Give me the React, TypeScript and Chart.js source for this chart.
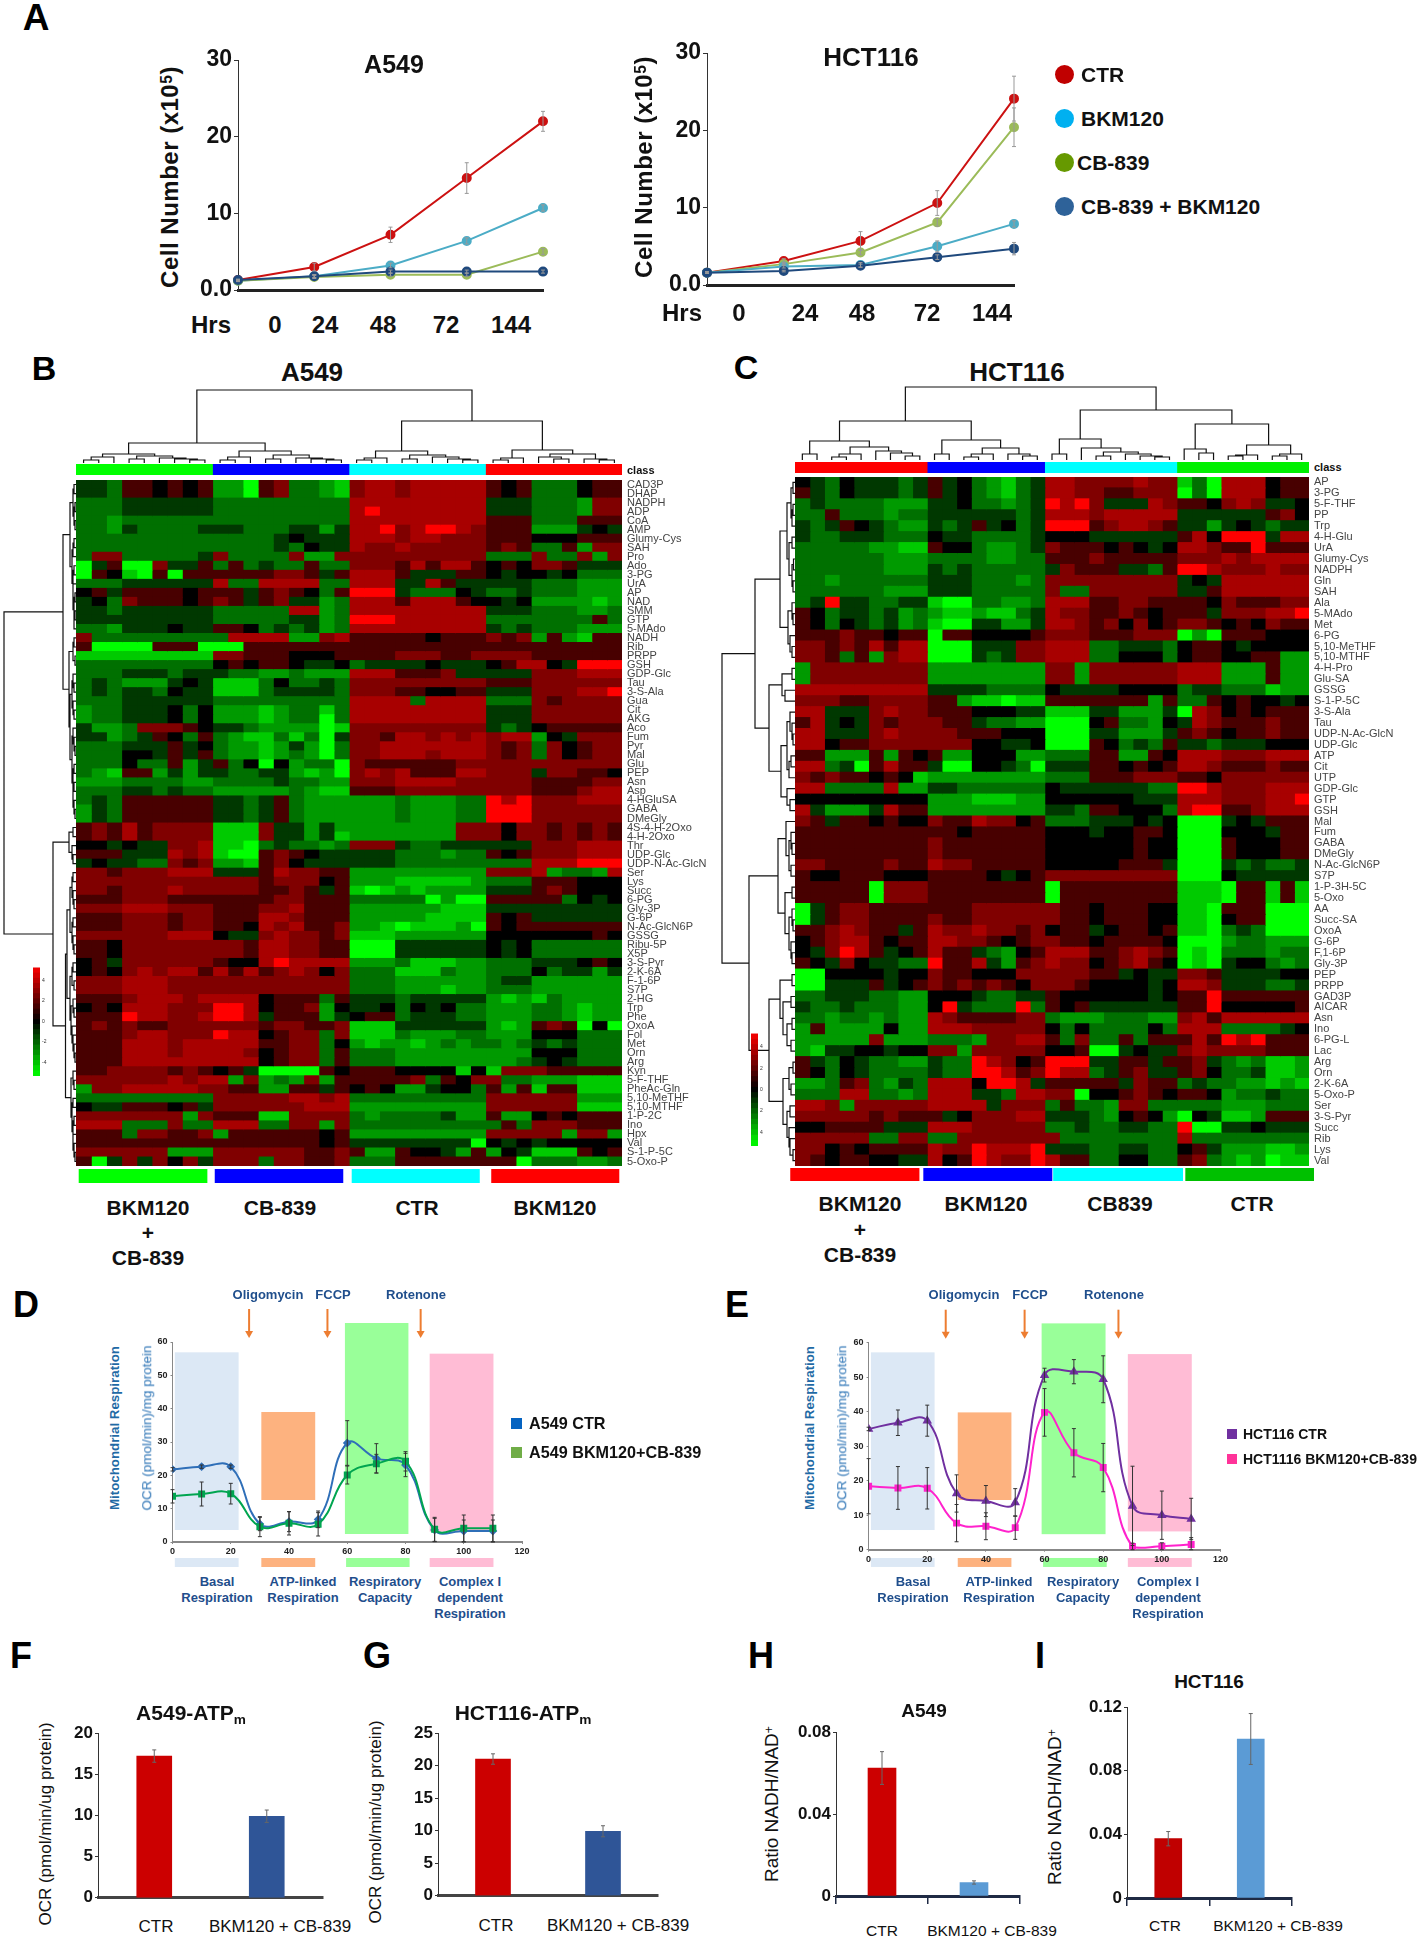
import React, { useEffect, useRef } from "react";
import { Chart, registerables } from "chart.js";
Chart.register(...registerables);

const FONT = '"Liberation Sans", Arial, sans-serif';

// ---------- Panel A ----------
const hours = ["0", "24", "48", "72", "144"];
const a549Ctr = [1.3, 3.0, 7.2, 14.6, 22];
const a549Bkm = [1.2, 1.8, 3.2, 6.4, 10.7];
const a549Cb = [1.2, 1.7, 2.0, 2.0, 5.0];
const a549Combo = [1.3, 1.8, 2.4, 2.4, 2.4];
const a549CtrErr = [0.1, 0.5, 1.0, 2.0, 1.3];
const a549BkmErr = [0.1, 0.2, 0.3, 0.4, 0.4];
const a549CbErr = [0.1, 0.2, 0.2, 0.2, 0.4];
const a549ComboErr = [0.1, 0.2, 0.2, 0.2, 0.2];
const hctCtr = [1.6, 3.1, 5.7, 10.6, 24.1];
const hctBkm = [1.6, 2.4, 2.6, 5.0, 7.9];
const hctCb = [1.6, 2.7, 4.2, 8.1, 20.4];
const hctCombo = [1.6, 1.8, 2.5, 3.6, 4.7];
const hctCtrErr = [0.1, 0.3, 1.2, 1.6, 2.9];
const hctBkmErr = [0.1, 0.2, 0.3, 0.7, 0.4];
const hctCbErr = [0.1, 0.2, 0.3, 0.5, 2.5];
const hctComboErr = [0.1, 0.1, 0.2, 0.3, 0.8];

// ---------- Heatmaps: one digit per cell, 0 = brightest green, 5 = black, 9 = brightest red ----------
const cellScale = [-5.3, -4.2, -3.2, -2.33, -1.17, 0, 1.5, 2.66, 3.5, 5.3];

const labelsB = ["CAD3P","DHAP","NADPH","ADP","CoA","AMP","Glumy-Cys","SAH","Pro","Ado","3-PG","UrA","AP","NAD","SMM","GTP","5-MAdo","NADH","Rib","PRPP","GSH","GDP-Glc","Tau","3-S-Ala","Gua","Cit","AKG","Aco","Fum","Pyr","Mal","Glu","PEP","Asn","Asp","4-HGluSA","GABA","DMeGly","4S-4-H-2Oxo","4-H-2Oxo","Thr","UDP-Glc","UDP-N-Ac-GlcN","Ser","Lys","Succ","6-PG","Gly-3P","G-6P","N-Ac-GlcN6P","GSSG","Ribu-5P","X5P","3-S-Pyr","2-K-6A","F-1-6P","S7P","2-HG","Trp","Phe","OxoA","Fol","Met","Orn","Arg","Kyn","5-F-THF","PheAc-Gln","5,10-MeTHF","5,10-MTHF","1-P-2C","Ino","Hpx","Val","S-1-P-5C","5-Oxo-P"];

const heatB = [
"443 665 656 220 673 321 788 788 888 656 333 566",
"443 665 656 220 673 321 788 788 888 656 333 566",
"333 444 444 333 333 333 888 888 888 444 333 277",
"333 444 444 333 333 333 898 888 888 444 333 277",
"332 333 333 333 333 333 888 888 888 666 333 666",
"332 433 334 443 334 424 889 789 987 666 222 454",
"333 333 333 333 345 444 888 788 777 666 555 666",
"333 333 333 333 343 544 877 877 777 676 336 277",
"377 333 334 733 337 227 777 777 777 333 733 727",
"046 007 446 363 433 633 777 686 886 565 776 444",
"065 106 066 666 677 646 888 644 466 545 545 333",
"333 444 444 833 888 833 888 448 644 444 333 222",
"564 666 656 664 676 536 999 433 354 334 333 222",
"453 766 656 764 674 423 888 688 865 545 222 212",
"443 444 444 333 338 823 888 888 888 444 333 223",
"444 444 444 333 334 423 999 888 888 333 333 363",
"332 444 544 665 343 423 888 888 888 434 333 222",
"733 333 333 388 882 278 666 665 666 767 262 166",
"600 006 660 006 666 666 666 666 666 666 666 666",
"111 111 111 776 665 556 666 777 667 777 666 666",
"333 333 333 565 665 445 344 445 444 568 854 999",
"333 444 344 433 223 222 888 666 744 444 777 888",
"343 222 454 111 353 343 777 777 777 666 777 777",
"343 443 544 111 344 443 777 665 566 444 777 889",
"333 444 444 333 333 333 888 838 888 333 767 777",
"233 444 535 222 123 313 888 888 888 444 777 777",
"233 444 535 222 123 303 888 888 888 444 777 777",
"422 377 765 443 222 201 777 777 777 434 566 666",
"442 346 536 321 131 304 776 887 878 788 254 777",
"333 444 645 322 124 203 778 888 888 767 375 677",
"333 554 646 322 123 203 778 887 888 767 375 677",
"333 533 624 635 052 330 766 666 677 777 777 777",
"321 662 424 433 442 120 787 866 688 777 477 665",
"222 333 322 333 343 322 777 888 877 777 666 677",
"333 443 433 222 223 211 666 777 777 777 666 788",
"343 666 666 443 463 222 222 322 233 989 777 888",
"243 666 666 443 463 222 222 322 233 999 777 777",
"243 666 666 443 463 222 222 322 233 999 777 777",
"676 867 777 111 744 242 222 222 277 757 767 676",
"676 867 777 111 744 241 222 222 277 757 767 676",
"554 544 778 110 343 323 777 433 444 444 777 888",
"666 444 878 100 676 544 444 333 233 656 777 888",
"454 433 767 221 675 444 444 333 333 333 888 999",
"776 777 888 444 687 766 222 222 222 777 823 328",
"777 777 777 777 677 756 222 111 112 333 666 555",
"776 777 877 777 667 646 101 212 222 444 676 555",
"666 777 666 666 677 666 333 330 200 666 663 545",
"777 888 777 666 778 666 222 222 111 444 444 444",
"666 777 677 666 887 666 222 221 111 656 444 444",
"666 777 677 665 878 667 221 011 120 656 666 666",
"777 777 888 544 787 767 111 222 222 555 555 565",
"665 777 777 776 887 766 000 444 444 545 333 333",
"665 777 777 776 887 766 000 444 444 545 333 333",
"564 777 777 655 898 888 222 311 122 333 444 565",
"565 787 886 868 678 757 333 111 322 333 534 424",
"777 888 777 777 777 777 333 222 222 344 222 222",
"777 888 777 777 777 777 333 222 122 333 222 222",
"666 788 878 888 566 636 444 344 444 212 132 222",
"565 888 777 998 566 725 445 354 533 222 332 122",
"666 988 778 998 466 624 566 344 433 222 332 122",
"676 766 777 777 677 667 111 444 444 212 676 050",
"666 788 777 988 567 737 111 322 233 222 555 333",
"666 888 788 888 667 735 212 212 323 323 434 333",
"666 888 788 887 567 736 333 222 222 222 555 333",
"666 888 888 888 567 736 333 222 222 223 454 333",
"667 777 676 564 000 065 666 555 515 177 766 666",
"777 777 878 827 232 726 666 673 657 733 222 111",
"277 888 887 766 226 646 565 224 553 626 166 111",
"333 333 333 777 778 878 333 333 333 777 777 222",
"544 666 564 777 777 888 222 222 222 777 777 111",
"777 777 727 666 117 777 323 333 422 622 565 666",
"888 333 733 888 337 727 333 333 333 363 777 666",
"666 377 667 266 666 656 222 222 222 777 772 772",
"666 666 666 666 666 656 444 444 440 545 455 555",
"777 777 222 777 777 667 622 655 426 254 111 656",
"604 747 574 777 377 667 333 666 666 660 333 223",
];

const labelsC = ["AP","3-PG","5-F-THF","PP","Trp","4-H-Glu","UrA","Glumy-Cys","NADPH","Gln","SAH","Ala","5-MAdo","Met","6-PG","5,10-MeTHF","5,10-MTHF","4-H-Pro","Glu-SA","GSSG","S-1-P-5C","3-S-Ala","Tau","UDP-N-Ac-GlcN","UDP-Glc","ATP","Cit","UTP","GDP-Glc","GTP","GSH","Mal","Fum","GABA","DMeGly","N-Ac-GlcN6P","S7P","1-P-3H-5C","5-Oxo","AA","Succ-SA","OxoA","G-6P","F,1-6P","Gly-3P","PEP","PRPP","GAD3P","AICAR","Asn","Ino","6-PG-L","Lac","Arg","Orn","2-K-6A","5-Oxo-P","Ser","3-S-Pyr","Succ","Rib","Lys","Val"];

const heatC = [
"543 544 434 645 321 34 887 777 877 130 888 566",
"643 544 434 645 321 34 887 766 777 030 888 566",
"343 333 222 445 332 34 989 744 487 665 787 445",
"336 333 233 444 444 34 888 788 888 444 444 675",
"434 654 322 434 645 34 999 678 876 442 454 344",
"433 444 333 544 333 34 555 444 444 685 999 488",
"333 332 211 655 322 34 766 656 545 887 669 666",
"333 333 222 333 322 33 666 766 666 777 878 888",
"333 333 222 434 333 33 476 664 436 998 777 877",
"332 333 333 444 333 23 777 777 777 454 888 888",
"333 333 222 444 333 33 733 777 777 446 888 888",
"349 443 344 100 332 23 888 667 766 665 766 677",
"653 443 423 211 211 34 877 667 656 664 777 889",
"653 543 423 100 442 24 887 675 756 776 565 766",
"666 766 566 066 555 56 777 666 777 020 666 555",
"776 768 688 000 444 77 888 334 443 566 545 555",
"776 362 788 000 434 77 888 335 553 566 556 622",
"277 777 777 222 222 22 772 777 777 888 222 622",
"277 777 777 222 222 22 772 777 777 888 222 622",
"888 888 888 444 433 33 544 445 555 344 333 122",
"777 667 777 662 110 11 666 666 626 336 565 545",
"884 447 877 666 555 44 111 442 224 087 565 666",
"684 547 677 766 433 22 000 563 325 487 666 766",
"884 447 877 776 665 55 000 442 224 676 566 766",
"885 667 777 777 554 45 000 653 436 443 444 555",
"662 226 265 622 555 22 333 662 265 888 777 888",
"883 406 866 400 554 30 444 665 656 887 666 766",
"767 665 651 222 222 22 333 666 777 665 777 777",
"883 333 822 443 333 33 544 444 433 998 777 888",
"555 555 555 222 111 22 555 555 444 888 777 889",
"842 224 866 222 222 22 443 665 553 899 667 888",
"764 665 655 766 877 56 333 444 545 000 454 666",
"666 666 666 665 666 66 555 455 665 000 555 466",
"666 666 666 766 666 66 555 555 655 000 655 566",
"666 666 666 766 666 66 555 555 655 000 655 566",
"776 666 766 877 666 66 555 556 664 000 434 334",
"655 666 555 666 654 56 777 777 777 000 544 444",
"666 660 777 666 666 66 066 666 666 111 066 161",
"666 660 777 666 666 66 066 666 666 111 066 161",
"046 776 666 666 777 77 766 566 655 110 666 000",
"046 776 666 766 777 77 766 566 655 110 566 000",
"667 876 646 877 877 67 566 456 656 110 343 000",
"567 886 566 887 765 67 766 566 665 000 233 222",
"547 986 456 866 432 56 888 667 876 010 333 233",
"654 754 433 966 842 67 877 567 865 010 455 323",
"005 555 455 766 555 77 777 664 544 776 444 455",
"004 446 456 767 676 57 776 555 545 887 444 334",
"334 443 322 555 433 44 655 555 545 669 666 666",
"433 433 322 594 333 93 656 444 444 669 555 556",
"332 332 322 876 666 77 322 233 322 786 888 888",
"262 222 522 888 777 77 535 333 353 888 333 345",
"222 227 222 333 277 88 637 336 366 686 989 666",
"214 455 455 772 777 77 556 004 544 787 777 666",
"643 543 322 433 987 56 999 446 646 674 323 112",
"653 543 333 433 998 67 988 346 744 675 334 112",
"223 673 243 888 599 84 666 664 766 343 322 121",
"333 883 323 888 443 88 770 556 765 665 233 433",
"887 277 777 888 847 77 363 327 733 333 222 333",
"777 776 766 645 777 88 444 325 652 054 112 666",
"556 666 444 888 777 77 334 334 433 900 445 444",
"777 773 377 337 777 77 733 333 333 833 333 333",
"775 656 666 877 988 89 444 334 433 564 222 112",
"765 665 544 856 987 79 866 335 533 673 212 011",
];

// Dendrograms: [height, childA, childB]; a bare number is a leaf index.
type Tree = number | [number, Tree, Tree];
const colTreeB: Tree = [73,
  [20,
    [9,[6,[3,0,1],2],[7,[4,3,4],[5,5,[4,6,[3,7,8]]]]],
    [12,[6,[3,9,10],11],[8,[4,12,13],[5,14,[4,15,[3,16,17]]]]]],
  [42,
    [12,[5,[3,18,19],20],[8,[4,21,22],[6,23,[4,24,[3,25,26]]]]],
    [13,[5,[3,27,28],29],[9,[6,30,[4,31,32]],[4,33,[3,34,35]]]]]];
const rowTreeB: Tree = [72,
  [13,
    [6,[3,[2,0,1],[2,[1,2,3],[1,4,5]]],[4,[3,[2,6,7],8],[3,[2,9,10],[3,11,[2,[1,12,13],[2,[1,14,15],16]]]]]],
    [7,[3,[2,17,18],[1,19,20]],[6,[4,[3,21,[2,22,23]],[3,24,[2,25,26]]],[4,[3,27,[2,28,[1,29,30]]],[3,[2,31,32],[3,[2,33,34],[2,35,[1,36,37]]]]]]]],
  [23,
    [7,[3,38,39],[4,40,[3,41,42]]],
    [10.5,
      [9,[6,[4,[3,43,44],[3,45,[2,46,47]]],[4,[3,48,49],[3,50,[2,51,52]]]],[6,[4,[3,53,54],[2,55,56]],[5,[3,57,[2,58,59]],[4,60,[3,61,[2,62,[1,63,64]]]]]]],
      [5,[3,65,[2,66,67]],[4,[3,68,69],[3,[2,70,71],[3,72,[2,73,[1,74,75]]]]]]]]];
const colTreeC: Tree = [73,
  [39,
    [19,[6,0,1],[13,[6,[3,2,3],4],[9,5,[7,6,[4,7,8]]]]],
    [20,[6,9,10],[12,[6,[3,11,12],13],[6,14,[4,15,16]]]]],
  [50,
    [21,[6,17,18],[12,19,[8,[4,20,21],[6,22,[4,23,[3,24,25]]]]]],
    [36,[11,26,[7,27,28]],[15,[5,[4,29,30],31],[6,[4,32,33],34]]]]];
const rowTreeC: Tree = [73,
  [40,
    [15,[8,[4,[2,0,1],[3,[2,2,3],4]],[6,[3,5,6],[3,[1.5,7,8],[2,9,10]]]],[7,[3,11,[2,12,13]],[5,14,[3,15,16]]]],
    [26,[13,[3,17,18],[10,19,20]],[14,[8,[5,21,[3,22,[2,23,24]]],[6,[4,25,26],27]],[8,28,[5,29,30]]]]],
  [46,
    [17,[9,31,[6,[4,32,[3,33,34]],[4,35,36]]],[10,[3,37,38],[6,[3,39,[2,40,41]],[4,42,[3,43,44]]]]],
    [26,[15,[3,45,46],[12,[4,47,48],[8,[3,49,50],[4,51,52]]]],[12,[6,[2,53,54],[4,55,56]],[8,[5,57,58],[6,59,[5,60,[2,61,62]]]]]]]];

const classRangesB = [[0, 9], [9, 18], [18, 27], [27, 36]];
const classColorsB = ["#00ff00", "#0000ff", "#00ffff", "#ff0000"];
const footRangesB = [[0.2, 8.64], [9.17, 17.6], [18.2, 26.6], [27.4, 35.8]];
const classRangesC = [[0, 9], [9, 17], [17, 26], [26, 35]];
const classColorsC = ["#ff0000", "#0000ff", "#00ffff", "#00f000"];
const footRangesC = [[-0.3, 8.45], [8.76, 17.5], [17.6, 26.4], [26.6, 35.34]];
const footColorsC = ["#ff0000", "#0000ff", "#00ffff", "#00c000"];
const colorBarLevels = [-5.3,-4.8,-4.3,-3.8,-3.3,-2.8,-2.3,-1.8,-1.3,-0.8,-0.3,0.2,0.7,1.2,1.7,2.2,2.7,3.2,3.7,4.2,4.7];

// ---------- Panels D / E ----------
const minutes = [0, 10, 20, 30, 40, 50, 60, 70, 80, 90, 100, 110];
const dCtr = [21.8, 22.6, 22.6, 5.4, 6.1, 6.8, 29.7, 25.1, 23.1, 3.6, 3.3, 3.3];
const dCtrErr = [0.5, 0.5, 0.5, 2, 3, 2.5, 6.7, 4.4, 3.5, 3.5, 3.3, 3.3];
const dCombo = [13.7, 14.4, 14.5, 4.6, 5.6, 5.3, 20.1, 23.5, 24.2, 3.8, 4.1, 4.1];
const dComboErr = [2, 3.6, 3.1, 3, 3.5, 3.5, 2.7, 2.8, 2.9, 3.6, 4, 4];
const eCtr = [35, 36.8, 37.4, 16.3, 14.1, 13.7, 50.6, 51.6, 49.4, 12.7, 10, 8.9];
const eCtrErr = [0.5, 3.7, 4.5, 5.4, 4.5, 4, 2, 3.5, 6.8, 11.5, 7, 6];
const eCombo = [18.4, 17.9, 17.8, 7.7, 6.8, 6.4, 39.8, 28.1, 23.8, 0.9, 1, 1.5];
const eComboErr = [8, 6.2, 6, 5.4, 3.9, 3.4, 6.9, 7, 7, 1, 1, 2];
const bandColors = ["#dce8f5", "#fdb27f", "#99ff99", "#ffbcd5"];
const dBands = [[0.8, 22.7, 56.9, 3.6], [30.5, 49, 39, 12.6], [59.2, 81, 65.7, 2.4], [88.3, 110.2, 56.5, 3.1]];
const dStrips = [[0.8, 22.7], [30.5, 49], [59.6, 81.4], [88.3, 110.2]];
const eBands = [[0.8, 22.5, 57.2, 5.7], [30.4, 48.7, 39.8, 14.4], [59, 80.8, 65.6, 4.5], [88.4, 110.2, 56.7, 5.3]];
const eStrips = [[0.8, 22.5], [30.4, 48.7], [59.5, 81.2], [88.4, 110.2]];
const drugTimes = [26.3, 53.2, 85.2];

// ---------- Panels F - I ----------
const barLabels = ["CTR", "BKM120 + CB-839"];
const fVals = [17.2, 9.9];
const fErr = [0.75, 0.75];
const gVals = [21, 9.9];
const gErr = [0.8, 0.85];
const hVals = [0.0625, 0.0066];
const hErr = [0.008, 0.0008];
const iVals = [0.0373, 0.1];
const iErr = [0.0045, 0.016];

// ---------- helpers ----------
const errorBars = {
  id: "errorBars",
  afterDatasetsDraw(chart: any) {
    const ctx = chart.ctx;
    const y = chart.scales.y;
    chart.data.datasets.forEach((ds: any, i: number) => {
      if (!ds.errs) return;
      const meta = chart.getDatasetMeta(i);
      ds.errs.forEach((e: number, j: number) => {
        const raw = ds.data[j];
        const v = typeof raw === "number" ? raw : raw.y;
        const x = meta.data[j].x;
        const t = y.getPixelForValue(v + e);
        const b = y.getPixelForValue(Math.max(0, v - e));
        ctx.save();
        ctx.strokeStyle = ds.errColor || "#777";
        ctx.lineWidth = 1;
        ctx.beginPath();
        ctx.moveTo(x, t); ctx.lineTo(x, b);
        ctx.moveTo(x - 2, t); ctx.lineTo(x + 2, t);
        ctx.moveTo(x - 2, b); ctx.lineTo(x + 2, b);
        ctx.stroke();
        ctx.restore();
      });
    });
  },
};

function bandsPlugin(bands: number[][], strips: number[][], stripY: number[], times: number[]) {
  return {
    id: "bands",
    beforeDraw(chart: any) {
      const { ctx, scales } = chart;
      const X = (v: number) => scales.x.getPixelForValue(v);
      const Y = (v: number) => scales.y.getPixelForValue(v);
      ctx.save();
      bands.forEach((b, i) => {
        ctx.fillStyle = bandColors[i];
        ctx.fillRect(X(b[0]), Y(b[2]), X(b[1]) - X(b[0]), Y(b[3]) - Y(b[2]));
      });
      strips.forEach((s, i) => {
        ctx.fillStyle = bandColors[i];
        ctx.fillRect(X(s[0]), Y(stripY[0]), X(s[1]) - X(s[0]), Y(stripY[1]) - Y(stripY[0]));
      });
      ctx.restore();
    },
    afterDraw(chart: any) {
      const { ctx, scales } = chart;
      ctx.save();
      ctx.strokeStyle = "#ed7d31";
      ctx.fillStyle = "#ed7d31";
      ctx.lineWidth = 2;
      times.forEach((t) => {
        const x = scales.x.getPixelForValue(t);
        const top = scales.y.top - 33;
        const tip = scales.y.top - 4;
        ctx.beginPath(); ctx.moveTo(x, top); ctx.lineTo(x, tip - 6); ctx.stroke();
        ctx.beginPath(); ctx.moveTo(x - 4, tip - 7); ctx.lineTo(x + 4, tip - 7); ctx.lineTo(x, tip); ctx.closePath(); ctx.fill();
      });
      ctx.restore();
    },
  };
}

function frame(box: number[], plot: number[]) {
  const [L, T, W, H] = box;
  const [x0, y0, x1, y1] = plot;
  return {
    layout: { padding: { top: y0 - T, right: L + W - x1, left: 0, bottom: 0 } },
    fitX: (s: any) => { s.height = T + H - y1; },
    fitY: (s: any) => { s.width = x0 - L; },
  };
}

const base = { animation: false, responsive: false, devicePixelRatio: 1, plugins: { legend: { display: false }, tooltip: { enabled: false }, title: { display: false } } };

function Plot({ box, make }: { box: number[]; make: () => any }) {
  const ref = useRef<HTMLCanvasElement>(null);
  useEffect(() => {
    const c = new Chart(ref.current as any, make());
    return () => c.destroy();
  }, []);
  return <canvas ref={ref} width={box[2]} height={box[3]} style={{ position: "absolute", left: box[0], top: box[1], width: box[2], height: box[3] }} />;
}

function T({ x, y, size, bold, color, rot, anchor, spacing, children }: any) {
  const tx = anchor === "left" ? "0" : "-50%";
  return (
    <div style={{ position: "absolute", left: x, top: y, transform: `translate(${tx},-50%)` + (rot ? ` rotate(${rot}deg)` : ""), fontFamily: FONT, fontSize: size, fontWeight: bold ? 700 : 400, color: color || "#111", whiteSpace: "nowrap", lineHeight: 1, letterSpacing: spacing || 0 }}>
      {children}
    </div>
  );
}
const Sup = ({ children }: any) => <span style={{ fontSize: "0.65em", position: "relative", top: "-0.4em" }}>{children}</span>;
const Sub = ({ children }: any) => <span style={{ fontSize: "0.65em", position: "relative", top: "0.3em" }}>{children}</span>;

function growthChart(box: number[], plot: number[], series: any[]) {
  const f = frame(box, plot);
  return () => ({
    type: "line",
    data: {
      labels: hours,
      datasets: series.map((s) => ({ data: s[0], errs: s[1], borderColor: s[2], backgroundColor: s[2], borderWidth: 2, pointRadius: 4, tension: 0, errColor: "#999" })),
    },
    plugins: [errorBars],
    options: {
      ...base,
      layout: f.layout,
      scales: {
        x: { afterFit: f.fitX, ticks: { display: false }, grid: { display: false }, border: { color: "#222", width: 3 } },
        y: {
          afterFit: f.fitY, min: 0, max: 30,
          ticks: { stepSize: 10, padding: 2, color: "#111", font: { family: FONT, size: 23, weight: "bold" }, callback: (v: number) => (v === 0 ? "0.0" : String(v)) },
          grid: { drawOnChartArea: false, tickLength: 4, color: "#333" }, border: { color: "#333", width: 1 },
        },
      },
    },
  });
}

function heatColor(z: number) {
  const c = Math.min(255, Math.round((Math.abs(z) / 5.3) * 255));
  return z > 0 ? `rgb(${c},0,0)` : `rgb(0,${c},0)`;
}

function heatChart(rows: string[], labels: string[], cols: number, labelW: number) {
  const grid = rows.map((r) => r.replace(/\s/g, "").split("").map((c) => cellScale[+c]));
  return () => ({
    type: "bar",
    data: {
      labels,
      datasets: Array.from({ length: cols }, (_, c) => ({
        data: grid.map(() => [c - 0.04, c + 1.04]),
        backgroundColor: grid.map((r) => heatColor(r[c] ?? 0)),
        borderWidth: 0, grouped: false, barPercentage: 1.1, categoryPercentage: 1,
      })),
    },
    options: {
      ...base,
      indexAxis: "y",
      layout: { padding: { top: 14, bottom: 14, left: 0, right: 0 } },
      scales: {
        x: { display: false, min: 0, max: cols },
        y: {
          position: "right", afterFit: (s: any) => { s.width = labelW; },
          ticks: { autoSkip: false, padding: 5, color: "#444", font: { family: FONT, size: 11 } },
          grid: { display: false, drawTicks: false }, border: { display: false },
        },
      },
    },
  });
}

function treePoints(tree: Tree, flip: boolean) {
  const pts: any[] = [];
  const put = (pos: number, h: number) => pts.push(flip ? { x: h, y: pos } : { x: pos, y: h });
  const walk = (t: Tree): [number, number] => {
    if (typeof t === "number") return [t + 0.5, 0];
    const [a, ah] = walk(t[1]);
    const [b, bh] = walk(t[2]);
    put(a, ah); put(a, t[0]); put(b, t[0]); put(b, bh);
    pts.push({ x: NaN, y: NaN });
    return [(a + b) / 2, t[0]];
  };
  walk(tree);
  return pts;
}

function treeChart(tree: Tree, flip: boolean, leaves: number, maxH: number) {
  return () => ({
    type: "scatter",
    data: { datasets: [{ data: treePoints(tree, flip), showLine: true, pointRadius: 0, borderWidth: 1.2, borderColor: "#111", spanGaps: false, tension: 0 }] },
    options: {
      ...base,
      scales: flip
        ? { x: { display: false, min: 0, max: maxH, reverse: true }, y: { display: false, min: 0, max: leaves, reverse: true } }
        : { x: { display: false, min: 0, max: leaves }, y: { display: false, min: 0, max: maxH } },
    },
  });
}

function classBar(ranges: number[][], colors: string[], min: number, max: number) {
  return () => ({
    type: "bar",
    data: { labels: ["class"], datasets: ranges.map((r, i) => ({ data: [r], backgroundColor: colors[i], borderWidth: 0, grouped: false, barPercentage: 1, categoryPercentage: 1 })) },
    options: { ...base, indexAxis: "y", scales: { x: { display: false, min, max }, y: { display: false } } },
  });
}

function colorBar(box: number[], plot: number[], abs: boolean) {
  return () => ({
    type: "bar",
    data: { labels: ["z"], datasets: colorBarLevels.map((v) => ({ data: [[v, v + 0.52]], backgroundColor: heatColor(v + 0.25), borderWidth: 0, grouped: false, barPercentage: 1, categoryPercentage: 1 })) },
    options: {
      ...base,
      layout: { padding: { top: plot[1] - box[1], bottom: box[1] + box[3] - plot[3], left: 0, right: 0 } },
      scales: {
        x: { display: false },
        y: {
          position: "right", min: -5.3, max: 5.3, afterFit: (s: any) => { s.width = box[2] - (plot[2] - plot[0]); },
          afterBuildTicks: (s: any) => { s.ticks = [-4, -2, 0, 2, 4].map((value) => ({ value })); },
          ticks: { padding: 2, color: "#333", font: { family: FONT, size: 5 }, callback: (v: number) => String(abs ? Math.abs(v) : v) },
          grid: { display: false, drawTicks: false }, border: { display: false },
        },
      },
    },
  });
}

function respChart(box: number[], plot: number[], series: any[], bands: number[][], strips: number[][], stripY: number[]) {
  const f = frame(box, plot);
  const tickFont = { family: FONT, size: 9, weight: "bold" };
  return () => ({
    type: "line",
    data: {
      datasets: series.map((s) => ({
        data: minutes.map((x, i) => ({ x, y: s[0][i] })), errs: s[1], errColor: "#333",
        borderColor: s[2], backgroundColor: s[2], borderWidth: 2, tension: 0.42, pointStyle: s[3], pointRadius: s[4],
      })),
    },
    plugins: [bandsPlugin(bands, strips, stripY, drugTimes), errorBars],
    options: {
      ...base,
      layout: f.layout,
      scales: {
        x: { type: "linear", afterFit: f.fitX, min: 0, max: 120, ticks: { stepSize: 20, padding: 2, color: "#222", font: tickFont, maxRotation: 0 }, grid: { drawOnChartArea: false, tickLength: 2, color: "#888" }, border: { color: "#888", width: 2 } },
        y: { afterFit: f.fitY, min: 0, max: 60, ticks: { stepSize: 10, padding: 3, color: "#222", font: tickFont }, grid: { drawOnChartArea: false, tickLength: 2, color: "#888" }, border: { color: "#888", width: 1 } },
      },
    },
  });
}

function barChart(box: number[], plot: number[], vals: number[], errs: number[], colors: string[], width: number, maxV: number, step: number, fmt: (v: number) => string, catTicks: boolean) {
  const f = frame(box, plot);
  return () => ({
    type: "bar",
    data: { labels: barLabels, datasets: [{ data: vals, errs, errColor: "#666", backgroundColor: colors, barThickness: width, borderWidth: 0 }] },
    plugins: [errorBars],
    options: {
      ...base,
      layout: f.layout,
      scales: {
        x: { afterFit: f.fitX, ticks: { display: false }, grid: { display: catTicks, drawOnChartArea: false, drawTicks: true, tickLength: 8, lineWidth: 1.5, tickColor: "#1f2a44", color: "#1f2a44", offset: true }, border: { color: catTicks ? "#1f2a44" : "#444", width: 3 } },
        y: { afterFit: f.fitY, min: 0, max: maxV, ticks: { stepSize: step, padding: 2, color: "#111", font: { family: FONT, size: 17, weight: "bold" }, callback: (v: number) => fmt(v) }, grid: { drawOnChartArea: false, tickLength: 3, color: "#333" }, border: { color: "#333", width: 1 } },
      },
    },
  });
}

const blue = "#1f4e8c";
const titleBlue = "#1f6aa5";
const ocrBlue = "#2e75b6";

function RespLabels({ labels, arrows, titles }: any) {
  return (
    <>
      <T x={titles[0]} y={1428} size={13.3} bold color={titleBlue} rot={-90}>Mitochondrial Respiration</T>
      <T x={titles[1]} y={1428} size={13.5} color={ocrBlue} rot={-90}>OCR (pmol/min)/mg protein</T>
      <T x={arrows[0]} y={1294} size={13} bold color={blue}>Oligomycin</T>
      <T x={arrows[1]} y={1294} size={13} bold color={blue}>FCCP</T>
      <T x={arrows[2]} y={1294} size={13} bold color={blue}>Rotenone</T>
      <T x={labels[0]} y={1581} size={13} bold color={blue}>Basal</T>
      <T x={labels[0]} y={1597} size={13} bold color={blue}>Respiration</T>
      <T x={labels[1]} y={1581} size={13} bold color={blue}>ATP-linked</T>
      <T x={labels[1]} y={1597} size={13} bold color={blue}>Respiration</T>
      <T x={labels[2]} y={1581} size={13} bold color={blue}>Respiratory</T>
      <T x={labels[2]} y={1597} size={13} bold color={blue}>Capacity</T>
      <T x={labels[3]} y={1581} size={13} bold color={blue}>Complex I</T>
      <T x={labels[3]} y={1597} size={13} bold color={blue}>dependent</T>
      <T x={labels[3]} y={1613} size={13} bold color={blue}>Respiration</T>
    </>
  );
}

const Swatch = ({ x, y, c, s }: any) => <div style={{ position: "absolute", left: x - s / 2, top: y - s / 2, width: s, height: s, background: c }} />;
const Dot = ({ x, y, c }: any) => <div style={{ position: "absolute", left: x - 9.5, top: y - 9.5, width: 19, height: 19, borderRadius: "50%", background: c }} />;

const xA1 = [275, 325, 383, 446, 511];
const xA2 = [739, 805, 862, 927, 992];

export default function App() {
  const red = "#cc0000";
  return (
    <div style={{ position: "absolute", left: 0, top: 0, width: 1418, height: 1940, background: "#fff", overflow: "hidden", filter: "blur(0.4px)" }}>
      {/* Letters */}
      <T x={36} y={17} size={37} bold color="#000">A</T>
      <T x={44} y={368} size={34} bold color="#000">B</T>
      <T x={746} y={367} size={34} bold color="#000">C</T>
      <T x={26} y={1305} size={36} bold color="#000">D</T>
      <T x={737} y={1305} size={36} bold color="#000">E</T>
      <T x={21} y={1656} size={36} bold color="#000">F</T>
      <T x={377} y={1656} size={36} bold color="#000">G</T>
      <T x={761} y={1656} size={36} bold color="#000">H</T>
      <T x={1040} y={1656} size={36} bold color="#000">I</T>

      {/* Panel A */}
      <Plot box={[185, 40, 370, 270]} make={growthChart([185, 40, 370, 270], [238, 60, 543, 290], [
        [a549Combo, a549ComboErr, "#1f497d"], [a549Cb, a549CbErr, "#9bbb59"], [a549Bkm, a549BkmErr, "#4bacc6"], [a549Ctr, a549CtrErr, "#cc1111"],
      ])} />
      <Plot box={[655, 35, 370, 270]} make={growthChart([655, 35, 370, 270], [707, 53, 1014, 285], [
        [hctCombo, hctComboErr, "#1f497d"], [hctBkm, hctBkmErr, "#4bacc6"], [hctCb, hctCbErr, "#9bbb59"], [hctCtr, hctCtrErr, "#cc1111"],
      ])} />
      <T x={170} y={177} size={24} bold rot={-90} spacing={0.5}>Cell Number (x10<Sup>5</Sup>)</T>
      <T x={644} y={167} size={24} bold rot={-90} spacing={0.5}>Cell Number (x10<Sup>5</Sup>)</T>
      <T x={394} y={64} size={25} bold>A549</T>
      <T x={871} y={57} size={26} bold>HCT116</T>
      <T x={211} y={325} size={24} bold>Hrs</T>
      {hours.map((h, i) => <T key={h} x={xA1[i]} y={325} size={24} bold>{h}</T>)}
      <T x={682} y={313} size={24} bold>Hrs</T>
      {hours.map((h, i) => <T key={h} x={xA2[i]} y={313} size={24} bold>{h}</T>)}
      <Dot x={1064} y={74} c="#c00000" />
      <Dot x={1064} y={118} c="#00b0f0" />
      <Dot x={1064} y={162} c="#669900" />
      <Dot x={1064} y={206} c="#2e6299" />
      <T x={1081} y={74} size={21} bold anchor="left">CTR</T>
      <T x={1081} y={118} size={21} bold anchor="left">BKM120</T>
      <T x={1077} y={162} size={21} bold anchor="left">CB-839</T>
      <T x={1081} y={206} size={21} bold anchor="left">CB-839 + BKM120</T>

      {/* Panel B */}
      <T x={312} y={372} size={26} bold>A549</T>
      <Plot box={[76, 388, 546, 75]} make={treeChart(colTreeB, false, 36, 75)} />
      <Plot box={[76, 464, 546, 11]} make={classBar(classRangesB, classColorsB, 0, 36)} />
      <T x={627} y={470} size={11} bold anchor="left">class</T>
      <Plot box={[0, 480, 76, 686]} make={treeChart(rowTreeB, true, 76, 76)} />
      <Plot box={[76, 466, 656, 714]} make={heatChart(heatB, labelsB, 36, 110)} />
      <Plot box={[76, 1169, 546, 14]} make={classBar(footRangesB, classColorsB, 0, 36)} />
      <Plot box={[33, 960, 25, 123]} make={colorBar([33, 960, 25, 123], [33, 967, 40, 1076], false)} />
      <T x={148} y={1207} size={21} bold>BKM120</T>
      <T x={148} y={1232} size={21} bold>+</T>
      <T x={148} y={1257} size={21} bold>CB-839</T>
      <T x={280} y={1207} size={21} bold>CB-839</T>
      <T x={417} y={1207} size={21} bold>CTR</T>
      <T x={555} y={1207} size={21} bold>BKM120</T>

      {/* Panel C */}
      <T x={1017} y={372} size={26} bold>HCT116</T>
      <Plot box={[795, 385, 514, 75]} make={treeChart(colTreeC, false, 35, 75)} />
      <Plot box={[795, 462, 514, 11]} make={classBar(classRangesC, classColorsC, 0, 35)} />
      <T x={1314} y={467} size={11} bold anchor="left">class</T>
      <Plot box={[719, 477, 76, 689]} make={treeChart(rowTreeC, true, 63, 76)} />
      <Plot box={[795, 463, 619, 717]} make={heatChart(heatC, labelsC, 35, 105)} />
      <Plot box={[790, 1168, 524, 13]} make={classBar(footRangesC, footColorsC, -0.34, 35.34)} />
      <Plot box={[751, 1026, 25, 127]} make={colorBar([751, 1026, 25, 127], [751, 1033, 758, 1146], true)} />
      <T x={860} y={1203} size={21} bold>BKM120</T>
      <T x={860} y={1229} size={21} bold>+</T>
      <T x={860} y={1254} size={21} bold>CB-839</T>
      <T x={986} y={1203} size={21} bold>BKM120</T>
      <T x={1120} y={1203} size={21} bold>CB839</T>
      <T x={1252} y={1203} size={21} bold>CTR</T>

      {/* Panel D */}
      <Plot box={[150, 1300, 395, 270]} make={respChart([150, 1300, 395, 270], [172.5, 1342, 522, 1542], [
        [dCombo, dComboErr, "#00a550", "rect", 3.5], [dCtr, dCtrErr, "#2f6fb8", "rectRot", 3],
      ], dBands, dStrips, [-4.8, -7.5])} />
      <RespLabels labels={[217, 303, 385, 470]} arrows={[268, 333, 416]} titles={[115, 147]} />
      <Swatch x={516} y={1423} c="#0563c1" s={11} />
      <Swatch x={516} y={1452} c="#70ad47" s={11} />
      <T x={529} y={1423} size={16.2} bold anchor="left">A549 CTR</T>
      <T x={529} y={1452} size={16.2} bold anchor="left">A549 BKM120+CB-839</T>

      {/* Panel E */}
      <Plot box={[846, 1300, 400, 280]} make={respChart([846, 1300, 400, 280], [868.6, 1342.7, 1220.5, 1549.7], [
        [eCombo, eComboErr, "#ff22cc", "rect", 3.5], [eCtr, eCtrErr, "#7030a0", "triangle", 3.5],
      ], eBands, eStrips, [-2.4, -5])} />
      <RespLabels labels={[913, 999, 1083, 1168]} arrows={[964, 1030, 1114]} titles={[810, 842]} />
      <Swatch x={1232} y={1434} c="#7030a0" s={10} />
      <Swatch x={1232} y={1459} c="#ff3399" s={10} />
      <T x={1243} y={1434} size={14} bold anchor="left">HCT116 CTR</T>
      <T x={1243} y={1459} size={14} bold anchor="left">HCT1116 BKM120+CB-839</T>

      {/* Panel F */}
      <Plot box={[58, 1720, 280, 190]} make={barChart([58, 1720, 280, 190], [98, 1733, 323, 1898], fVals, fErr, [red, "#2f5597"], 35, 20, 5, (v) => String(v), false)} />
      <T x={45} y={1824} size={17} rot={-90}>OCR (pmol/min/ug protein)</T>
      <T x={191} y={1712} size={21} bold>A549-ATP<Sub>m</Sub></T>
      <T x={156} y={1926} size={17}>CTR</T>
      <T x={280} y={1926} size={17}>BKM120 + CB-839</T>

      {/* Panel G */}
      <Plot box={[398, 1720, 275, 190]} make={barChart([398, 1720, 275, 190], [438, 1733, 658, 1895.7], gVals, gErr, [red, "#2f5597"], 35, 25, 5, (v) => String(v), false)} />
      <T x={375} y={1822} size={17} rot={-90}>OCR (pmol/min/ug protein)</T>
      <T x={523} y={1712} size={21} bold>HCT116-ATP<Sub>m</Sub></T>
      <T x={496} y={1925} size={17}>CTR</T>
      <T x={618} y={1925} size={17}>BKM120 + CB-839</T>

      {/* Panel H */}
      <Plot box={[786, 1720, 250, 195]} make={barChart([786, 1720, 250, 195], [836, 1732, 1020, 1896], hVals, hErr, [red, "#5b9bd5"], 28, 0.08, 0.04, (v) => (v === 0 ? "0" : v.toFixed(2)), true)} />
      <T x={771} y={1804} size={19} rot={-90}>Ratio NADH/NAD<Sup>+</Sup></T>
      <T x={924} y={1710} size={19} bold>A549</T>
      <T x={882} y={1931} size={15.5}>CTR</T>
      <T x={992} y={1931} size={15.5}>BKM120 + CB-839</T>

      {/* Panel I */}
      <Plot box={[1075, 1695, 230, 220]} make={barChart([1075, 1695, 230, 220], [1127, 1707, 1292, 1898], iVals, iErr, ["#c00000", "#5b9bd5"], 27, 0.12, 0.04, (v) => (v === 0 ? "0" : v.toFixed(2)), true)} />
      <T x={1054} y={1807} size={19} rot={-90}>Ratio NADH/NAD<Sup>+</Sup></T>
      <T x={1209} y={1681} size={19} bold>HCT116</T>
      <T x={1165} y={1926} size={15.5}>CTR</T>
      <T x={1278} y={1926} size={15.5}>BKM120 + CB-839</T>
    </div>
  );
}
